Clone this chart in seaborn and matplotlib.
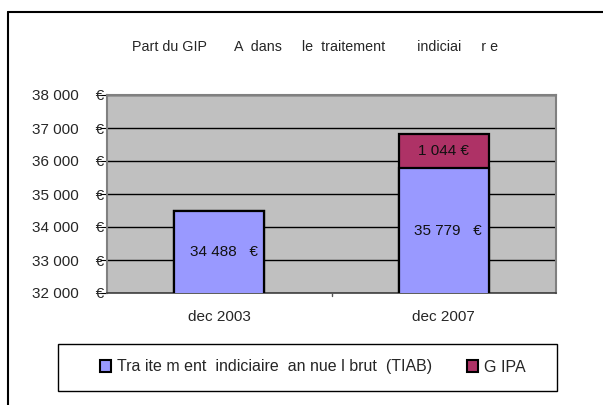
import matplotlib
matplotlib.use("Agg")
import matplotlib.pyplot as plt
from matplotlib.lines import Line2D
from matplotlib.patches import Patch, Rectangle
import seaborn as sns
import pandas as pd

# données
categories = ["dec 2003", "dec 2007"]
tiab = [34488, 35779]
gipa = [0, 1044]
tiab_labels = ["34 488   €", "35 779   €"]
gipa_labels = ["", "1 044 €"]
yticks = [32000, 33000, 34000, 35000, 36000, 37000, 38000]
ytick_labels = ["32 000    €", "33 000    €", "34 000    €", "35 000    €",
                "36 000    €", "37 000    €", "38 000    €"]

sns.set_style("white")
plt.rcParams["font.family"] = ["Liberation Sans", "DejaVu Sans"]

df = pd.DataFrame({"cat": categories, "tiab": tiab, "gipa": gipa})
df["total"] = df["tiab"] + df["gipa"]

fig = plt.figure(figsize=(6.03, 4.05), dpi=100)
ax = fig.add_axes([107 / 603, 1 - 293 / 405, 449 / 603, 198 / 405])
ax.set_facecolor("#C0C0C0")

c_tiab = "#9999FF"
c_gipa = "#AE3266"

sns.barplot(data=df, x="cat", y="total", color=c_gipa, width=0.4,
            edgecolor="black", linewidth=1.6, saturation=1, ax=ax, zorder=3)
sns.barplot(data=df, x="cat", y="tiab", color=c_tiab, width=0.4,
            edgecolor="black", linewidth=1.6, saturation=1, ax=ax, zorder=4)

ymin, ymax = 32000, 38000
ax.set_ylim(ymin, ymax)
ax.set_xlim(-0.5, 1.5)
ax.set_yticks(yticks)
ax.set_yticklabels(ytick_labels)
ax.set_xlabel("")
ax.set_ylabel("")
ax.yaxis.grid(True, color="black", linewidth=1.0)
ax.set_axisbelow(True)

# étiquettes dans les barres
for i in range(len(categories)):
    ax.text(i + 0.02, (ymin + tiab[i]) / 2, tiab_labels[i], ha="center",
            va="center", fontsize=11, color="#111111", zorder=6)
    if gipa[i] > 0:
        ax.text(i, tiab[i] + gipa[i] / 2, gipa_labels[i], ha="center",
                va="center", fontsize=11, color="#111111", zorder=6)

ax.tick_params(axis="y", direction="out", length=5, width=0.8, pad=-3,
               labelsize=11, left=True, color="black")
ax.tick_params(axis="x", length=0, pad=12, labelsize=11)
# petit repère entre les catégories
ax.plot([0.5, 0.5], [ymin, ymin - 100], color="#555555", lw=1,
        clip_on=False, zorder=5)

for side in ["top", "right", "left"]:
    ax.spines[side].set_color("#808080")
    ax.spines[side].set_linewidth(1.5)
ax.spines["bottom"].set_color("#404040")
ax.spines["bottom"].set_linewidth(1.2)

fig.text(315 / 603, 1 - 47 / 405,
         "Part du GIP       A  dans     le  traitement        indiciai     r e",
         ha="center", va="center", fontsize=10.3)

# légende : cadre dessiné à part
fig.add_artist(Rectangle((58 / 603, 1 - 391 / 405), 499 / 603, 47 / 405,
                         transform=fig.transFigure, facecolor="white",
                         edgecolor="black", lw=1.0))
handles = [Patch(facecolor=c_tiab, edgecolor="black", linewidth=1.5),
           Patch(facecolor=c_gipa, edgecolor="black", linewidth=1.5)]
leg = fig.legend(handles,
                 ["Tra ite m ent  indiciaire  an nue l brut  (TIAB)", "G IPA"],
                 loc="center left", bbox_to_anchor=(100 / 603, 1 - 367 / 405),
                 ncol=2, frameon=False, fontsize=11.5, borderpad=0,
                 borderaxespad=0,
                 handlelength=0.7, handleheight=0.7, handletextpad=0.35,
                 columnspacing=2.2)

# cadre partiel du graphique
fig.add_artist(Line2D([8 / 603, 1], [1 - 12 / 405, 1 - 12 / 405],
                      transform=fig.transFigure, color="black", lw=1.5))
fig.add_artist(Line2D([8 / 603, 8 / 603], [0, 1 - 12 / 405],
                      transform=fig.transFigure, color="black", lw=1.5))

fig.savefig("out.png", dpi=100)
